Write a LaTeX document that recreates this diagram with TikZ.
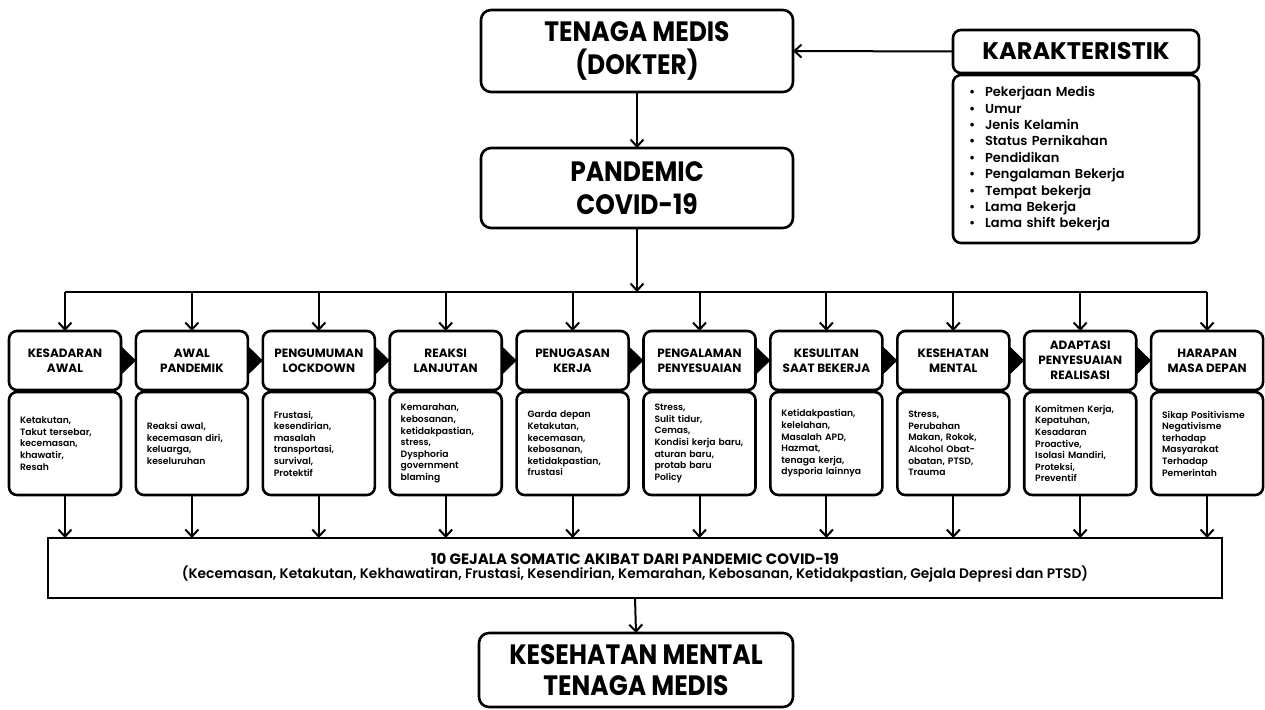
\documentclass[tikz,border=0pt]{standalone}
\usepackage{fontspec}
\setmainfont{Poppins}
\newfontfamily\semifont{Poppins SemiBold}
\newfontfamily\headfont{Poppins Bold}[FakeStretch=0.89]
\usetikzlibrary{arrows.meta}

\begin{document}
\begin{tikzpicture}[x=1pt,y=-1pt,
  every node/.style={inner sep=0pt, outer sep=0pt},
  conn/.style={line width=2pt, -{Straight Barb[length=7pt,width=13pt]}},
  bus/.style={line width=2pt},
  mainbox/.style={draw, line width=2.6pt, rounded corners=10pt, minimum width=312pt,
    align=center, font=\headfont\fontsize{28}{33}\selectfont},
  karhead/.style={draw, line width=2.6pt, rounded corners=8pt, minimum width=246pt,
    minimum height=43pt, align=center, font=\bfseries\fontsize{24}{28}\selectfont},
  karbody/.style={draw, line width=2.6pt, rounded corners=8pt, minimum height=168pt,
    text width=214pt, inner xsep=16pt, align=left, font=\semifont\fontsize{13}{16.4}\selectfont},
  colhead/.style={draw, line width=2.6pt, rounded corners=8pt, minimum width=112pt,
    minimum height=59pt, align=center, font=\bfseries\fontsize{12}{15}\selectfont},
  colbody/.style={draw, line width=2.6pt, rounded corners=8pt, minimum height=103pt,
    text width=90pt, inner xsep=11pt, align=left, font=\semifont\fontsize{9.2}{11.6}\selectfont},
  sumbox/.style={draw, line width=2.6pt, minimum width=1174pt, minimum height=60pt, align=center},
  flow/.style={fill=black}
]
\useasboundingbox (0,0) rectangle (1265,709);

% top: population and pandemic
\node[mainbox, minimum height=82pt] (tm) at (637,51) {TENAGA MEDIS\\(DOKTER)};
\node[mainbox, minimum height=80pt] (pan) at (637,188) {PANDEMIC\\COVID-19};

% characteristics panel
\node[karhead] (karh) at (1076,51.5) {KARAKTERISTIK};
\newcommand{\bul}[1]{\makebox[16pt][l]{\textbullet}#1}
\node[karbody] (karb) at (1076,159) {%
  \bul{Pekerjaan Medis}\\
  \bul{Umur}\\
  \bul{Jenis Kelamin}\\
  \bul{Status Pernikahan}\\
  \bul{Pendidikan}\\
  \bul{Pengalaman Bekerja}\\
  \bul{Tempat bekerja}\\
  \bul{Lama Bekerja}\\
  \bul{Lama shift bekerja}};

\draw[conn] (karh.west) -- (tm.east);
\draw[conn] (tm.south) -- (pan.north);

% phase headers
\node[colhead] (h1) at (65,360.5) {KESADARAN\\AWAL};
\node[colhead] (h2) at (191.9,360.5) {AWAL\\PANDEMIK};
\node[colhead] (h3) at (318.8,360.5) {PENGUMUMAN\\LOCKDOWN};
\node[colhead] (h4) at (445.7,360.5) {REAKSI\\LANJUTAN};
\node[colhead] (h5) at (572.6,360.5) {PENUGASAN\\KERJA};
\node[colhead] (h6) at (699.5,360.5) {PENGALAMAN\\PENYESUAIAN};
\node[colhead] (h7) at (826.4,360.5) {KESULITAN\\SAAT BEKERJA};
\node[colhead] (h8) at (953.3,360.5) {KESEHATAN\\MENTAL};
\node[colhead] (h9) at (1080.2,360.5) {ADAPTASI\\PENYESUAIAN\\REALISASI};
\node[colhead] (h10) at (1207.1,360.5) {HARAPAN\\MASA DEPAN};

% phase contents
\node[colbody] (b1) at (65,443.5) {Ketakutan,\\Takut tersebar,\\kecemasan,\\khawatir,\\Resah};
\node[colbody] (b2) at (191.9,443.5) {Reaksi awal,\\kecemasan diri,\\keluarga,\\keseluruhan};
\node[colbody] (b3) at (318.8,443.5) {Frustasi,\\kesendirian,\\masalah\\transportasi,\\survival,\\Protektif};
\node[colbody] (b4) at (445.7,443.5) {Kemarahan,\\kebosanan,\\ketidakpastian,\\stress,\\Dysphoria\\government\\blaming};
\node[colbody] (b5) at (572.6,443.5) {Garda depan\\Ketakutan,\\kecemasan,\\kebosanan,\\ketidakpastian,\\frustasi};
\node[colbody] (b6) at (699.5,443.5) {Stress,\\Sulit tidur,\\Cemas,\\Kondisi kerja baru,\\aturan baru,\\protab baru\\Policy};
\node[colbody] (b7) at (826.4,443.5) {Ketidakpastian,\\kelelahan,\\Masalah APD,\\Hazmat,\\tenaga kerja,\\dysporia lainnya};
\node[colbody] (b8) at (953.3,443.5) {Stress,\\Perubahan\\Makan, Rokok,\\Alcohol Obat-\\obatan, PTSD,\\Trauma};
\node[colbody] (b9) at (1080.2,443.5) {Komitmen Kerja,\\Kepatuhan,\\Kesadaran\\Proactive,\\Isolasi Mandiri,\\Proteksi,\\Preventif};
\node[colbody] (b10) at (1207.1,443.5) {Sikap Positivisme\\Negativisme\\terhadap\\Masyarakat\\Terhadap\\Pemerintah};

% sequence markers between phases
\foreach \a/\b in {h1/h2,h2/h3,h3/h4,h4/h5,h5/h6,h6/h7,h7/h8,h8/h9,h9/h10}
  \fill[flow] ([yshift=14.5pt]\a.east) -- (\b.west) -- ([yshift=-14.5pt]\a.east) -- cycle;

% distribution bus from the pandemic to every phase
\coordinate (busy) at (637,292);
\draw[conn] (pan.south) -- (pan.south |- busy);
\draw[bus] (h1.north |- busy) -- (h10.north |- busy);
\foreach \h in {h1,h2,h3,h4,h5,h6,h7,h8,h9,h10}
  \draw[conn] (\h.north |- busy) -- (\h.north);

% summary of symptoms
\node[sumbox] (sum) at (635,568) {%
  {\bfseries\fontsize{15}{21}\selectfont 10 GEJALA SOMATIC AKIBAT DARI PANDEMIC COVID-19}\\
  {\semifont\fontsize{13.8}{21}\selectfont (Kecemasan, Ketakutan, Kekhawatiran, Frustasi, Kesendirian, Kemarahan, Kebosanan, Ketidakpastian, Gejala Depresi dan PTSD)}};
\foreach \b in {b1,b2,b3,b4,b5,b6,b7,b8,b9,b10}
  \draw[conn] (\b.south) -- (\b.south |- sum.north);

% outcome
\node[mainbox, minimum width=314pt, minimum height=74pt, font=\headfont\fontsize{28}{31}\selectfont] (out) at (636,670) {KESEHATAN MENTAL\\TENAGA MEDIS};
\draw[conn] (sum.south) -- (out.north);
\end{tikzpicture}
\end{document}
